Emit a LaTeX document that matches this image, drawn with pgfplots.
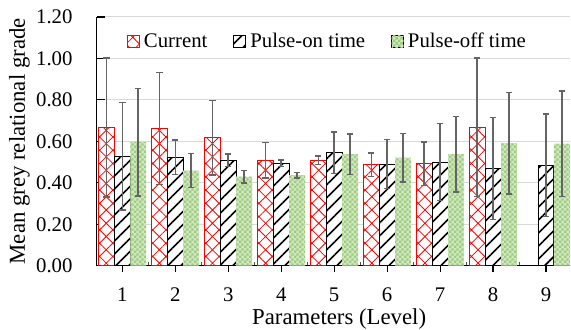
\documentclass[border=0pt]{standalone}
\usepackage{pgfplots}
\pgfplotsset{compat=1.18}
\usepackage{fontspec}
\setmainfont{Liberation Serif}
\usetikzlibrary{patterns,patterns.meta}
\definecolor{errgray}{RGB}{100,100,100}
\definecolor{gridgray}{RGB}{217,217,217}
\definecolor{greenfill}{RGB}{208,232,192}
\definecolor{greenpat}{RGB}{158,203,128}
\pgfdeclarepatternformonly{smallcheck}{\pgfqpoint{0pt}{0pt}}{\pgfqpoint{2.4pt}{2.4pt}}{\pgfqpoint{2.4pt}{2.4pt}}{%
  \pgfpathrectangle{\pgfqpoint{0pt}{0pt}}{\pgfqpoint{1.2pt}{1.2pt}}%
  \pgfpathrectangle{\pgfqpoint{1.2pt}{1.2pt}}{\pgfqpoint{1.2pt}{1.2pt}}%
  \pgfusepath{fill}}
\tikzset{
  curstyle/.style={draw=red, line width=0.5pt, fill=white,
    postaction={pattern={Hatch[angle=45,distance=4.7pt,line width=0.4pt]}, pattern color=red}},
  onstyle/.style={draw=black, line width=0.5pt, fill=white,
    postaction={pattern={Lines[angle=45,distance=4.6pt,line width=0.8pt]}, pattern color=black}},
  offstyle/.style={draw=none, fill=greenfill,
    postaction={pattern=smallcheck, pattern color=greenpat}},
}
\pgfplotstableread{
x y e
1 0.667 0.335
2 0.663 0.270
3 0.618 0.180
4 0.509 0.085
5 0.509 0.020
6 0.487 0.056
7 0.492 0.104
8 0.668 0.333
}\current
\pgfplotstableread{
x y e
1 0.528 0.260
2 0.524 0.083
3 0.508 0.030
4 0.495 0.016
5 0.544 0.100
6 0.490 0.118
7 0.500 0.185
8 0.469 0.245
9 0.485 0.248
}\pulseon
\pgfplotstableread{
x y e
1 0.596 0.260
2 0.459 0.082
3 0.430 0.030
4 0.437 0.013
5 0.538 0.097
6 0.522 0.117
7 0.538 0.183
8 0.591 0.245
9 0.589 0.254
}\pulseoff
\begin{document}
\begin{tikzpicture}
\begin{axis}[
  name=ax,
  scale only axis,
  width=237pt, height=124.5pt,
  ybar, bar width=0.3,
  xmin=0.52, xmax=9.46,
  ymin=0, ymax=1.2,
  ytick={0,0.2,0.4,0.6,0.8,1.0,1.2},
  yticklabels={0.00,0.20,0.40,0.60,0.80,1.00,1.20},
  xtick={1,...,9},
  xticklabels={1,2,3,4,5,6,7,8,9},
  minor xtick={1.5,2.5,...,8.5},
  axis x line*=bottom, axis y line*=left,
  axis line style={line width=0.6pt, black},
  ymajorgrids, grid style={line width=0.5pt, gridgray},
  tick align=outside,
  major tick length=3pt, minor tick length=2pt,
  every major y tick/.append style={xscale=-4/3, line width=0.6pt, black},
  every major x tick/.append style={line width=0.6pt, black},
  every minor x tick/.append style={yshift=2pt, line width=0.6pt, black!70},
  tick label style={font=\fontsize{10.4}{12}\selectfont},
  yticklabel style={anchor=east, inner sep=0pt, xshift=-9pt},
  xticklabel style={anchor=base, inner sep=0pt, yshift=-15pt},
  ylabel={Mean grey relational grade},
  xlabel={Parameters (Level)},
  label style={font=\fontsize{11.4}{13}\selectfont},
  ylabel style={at={(axis description cs:-0.1635,0.5)}, anchor=center},
  xlabel style={at={(axis description cs:0.5,0)}, anchor=base, inner sep=0pt, yshift=-29.5pt, xshift=2.75pt},
  legend columns=3,
  legend style={at={(axis description cs:0.489,0.9)}, anchor=center, draw=none, fill=none,
    font=\fontsize{10.4}{12}\selectfont,
    nodes={inner xsep=2pt, inner ysep=0pt},
    /tikz/every even column/.append style={column sep=11pt}},
  legend image code/.code={\draw[#1] (0pt,-3pt) rectangle (6pt,3pt);},
  error bars/y dir=both, error bars/y explicit,
  error bars/error bar style={line width=0.75pt, errgray},
  error bars/error mark options={rotate=90, mark size=1.6pt, line width=0.75pt, errgray},
]
\addplot[curstyle, bar shift=-0.3] table[x=x, y=y, y error=e]{\current};
\addplot[onstyle, bar shift=0] table[x=x, y=y, y error=e]{\pulseon};
\addplot[offstyle, bar shift=0.3] table[x=x, y=y, y error=e]{\pulseoff};
\legend{Current, Pulse-on time, Pulse-off time}
\end{axis}
\path ([xshift=-48.5pt,yshift=-31.5pt]ax.south west) rectangle ++(285.5pt,164.5pt);
\end{tikzpicture}
\end{document}
